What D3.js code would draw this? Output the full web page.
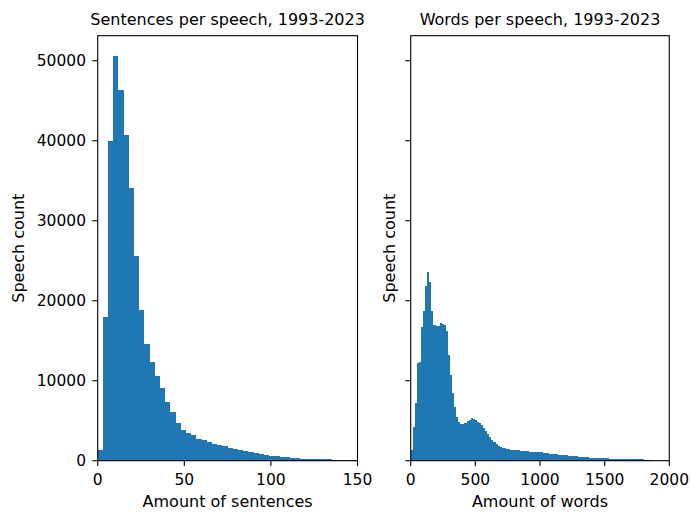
<!DOCTYPE html>
<html>
<head>
<meta charset="utf-8">
<script src="https://cdn.jsdelivr.net/npm/d3@7"></script>
<style>
  body { margin: 0; background: #fff; }
  text { font-family: "DejaVu Sans", sans-serif; fill: #000; }
</style>
</head>
<body>
<div id="chart"></div>
<script>
// histogram data
const sentenceBinWidth = 3;
const sentenceCounts = [1400, 18000, 40000, 50600, 46400, 40700, 34100, 25600, 18850, 14650,
  12380, 10630, 9050, 7310, 6030, 4730, 3900, 3490, 3200, 2740,
  2540, 2330, 2080, 1910, 1780, 1620, 1500, 1330, 1230, 1060,
  980, 900, 760, 650, 580, 480, 420, 330, 280, 250,
  210, 200, 180, 170, 160, 150, 140, 40, 150, 60];

const wordBinWidth = 16;
const wordCounts = [1330, 4160, 7270, 12200, 12400, 16770, 18770, 21880, 23540, 22290,
  18770, 16980, 16810, 16810, 17270, 17100, 16980, 16190, 13160, 10670,
  8500, 6700, 5500, 4800, 4600, 4620, 4700, 4950, 5150, 5280,
  5200, 5050, 4900, 4750, 4450, 4100, 3700, 3300, 2950, 2650,
  2400, 2150, 1900, 1750, 1650, 1560, 1500, 1440, 1380, 1340,
  1320, 1300, 1280, 1260, 1230, 1200, 1170, 1150, 1140, 1130,
  1110, 1090, 1060, 1030, 1000, 970, 940, 900, 850, 810,
  780, 750, 720, 700, 680, 660, 640, 610, 590, 570,
  550, 520, 490, 460, 440, 420, 400, 380, 360, 350,
  340, 320, 310, 300, 290, 280, 270, 260, 250, 240,
  230, 220, 210, 200, 195, 190, 185, 180, 175, 170,
  165, 160, 155, 150, 145, 140, 135];

const sentenceTicks = [0, 50, 100, 150];
const wordTicks = [0, 500, 1000, 1500, 2000];
const countTicks = [0, 10000, 20000, 30000, 40000, 50000];

const width = 690, height = 514;
const plotTop = 35.7, plotBottom = 460.7;
const tickLen = 5.4;
const barColor = "#1f77b4";

const svg = d3.select("#chart").append("svg")
    .attr("width", width)
    .attr("height", height);

// shared y (sharey=True)
const yMax = Math.max(d3.max(sentenceCounts), d3.max(wordCounts)) * 1.05;
const y = d3.scaleLinear().domain([0, yMax]).range([plotBottom, plotTop]);

function drawPanel(opts) {
    const x = d3.scaleLinear().domain(opts.xDomain).range([opts.left, opts.right]);
    const g = svg.append("g");

    // no edgecolor in the original, crisp edges keep the bins from showing seams
    g.selectAll("rect.bar")
        .data(opts.counts)
        .enter()
        .append("rect")
        .attr("class", "bar")
        .attr("x", (d, i) => x(i * opts.binWidth))
        .attr("width", (d, i) => x((i + 1) * opts.binWidth) - x(i * opts.binWidth))
        .attr("y", d => y(d))
        .attr("height", d => plotBottom - y(d))
        .attr("fill", barColor)
        .attr("shape-rendering", "crispEdges");

    // x ticks
    opts.xTicks.forEach(t => {
        g.append("line")
            .attr("x1", x(t)).attr("x2", x(t))
            .attr("y1", plotBottom).attr("y2", plotBottom + tickLen)
            .attr("stroke", "#000").attr("stroke-width", 1.1);
        g.append("text")
            .attr("x", x(t)).attr("y", 485)
            .attr("text-anchor", "middle")
            .style("font-size", "15.5px")
            .text(t);
    });

    // y ticks
    countTicks.forEach(t => {
        g.append("line")
            .attr("x1", opts.left - tickLen).attr("x2", opts.left)
            .attr("y1", y(t)).attr("y2", y(t))
            .attr("stroke", "#000").attr("stroke-width", 1.1);
        if (opts.yLabels) {
            g.append("text")
                .attr("x", opts.left - tickLen - 6.3).attr("y", y(t) + 5.6)
                .attr("text-anchor", "end")
                .style("font-size", "15.5px")
                .text(t);
        }
    });

    // spines
    g.append("rect")
        .attr("x", opts.left).attr("y", plotTop)
        .attr("width", opts.right - opts.left).attr("height", plotBottom - plotTop)
        .attr("fill", "none").attr("stroke", "#000").attr("stroke-width", 1.1);

    g.append("text")
        .attr("x", (opts.left + opts.right) / 2).attr("y", 25)
        .attr("text-anchor", "middle")
        .style("font-size", "16px")
        .text(opts.title);

    g.append("text")
        .attr("x", (opts.left + opts.right) / 2).attr("y", 506.5)
        .attr("text-anchor", "middle")
        .style("font-size", "16px")
        .text(opts.xLabel);

    g.append("text")
        .attr("transform", `translate(${opts.yLabelX}, ${(plotTop + plotBottom) / 2}) rotate(-90)`)
        .attr("text-anchor", "middle")
        .style("font-size", "16px")
        .text("Speech count");
}

drawPanel({
    left: 97.7, right: 357.5,
    xDomain: [0, 150],
    counts: sentenceCounts, binWidth: sentenceBinWidth,
    xTicks: sentenceTicks,
    yLabels: true, yLabelX: 23.5,
    title: "Sentences per speech, 1993-2023",
    xLabel: "Amount of sentences"
});

drawPanel({
    left: 410.7, right: 669.3,
    xDomain: [0, 2000],
    counts: wordCounts, binWidth: wordBinWidth,
    xTicks: wordTicks,
    yLabels: false, yLabelX: 395,
    title: "Words per speech, 1993-2023",
    xLabel: "Amount of words"
});
</script>
</body>
</html>
